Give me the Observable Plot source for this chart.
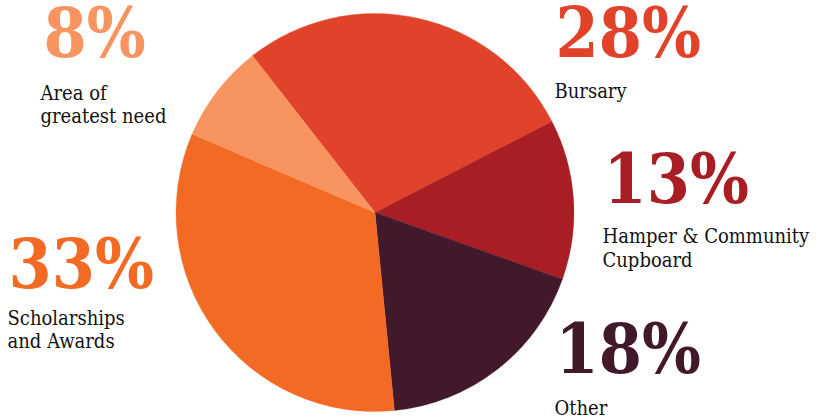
<!DOCTYPE html>
<html>
<head>
<meta charset="utf-8">
<script src="https://cdn.jsdelivr.net/npm/d3@7"></script>
<script src="https://cdn.jsdelivr.net/npm/@observablehq/plot@0.6"></script>
<style>
  html, body { margin: 0; padding: 0; background: #fff; }
  #chart svg { display: block; }
</style>
</head>
<body>
<div id="chart"></div>
<script>
// ---- data ----
const categories = ["Bursary", "Hamper & Community\nCupboard", "Other", "Scholarships\nand Awards", "Area of\ngreatest need"];
const values = [28, 13, 18, 33, 8];
const percentLabels = ["28%", "13%", "18%", "33%", "8%"];
const colors = ["#E04329", "#A81E24", "#41192B", "#F26A24", "#F7945F"];

// ---- layout (pixel space, via identity-like scales) ----
const W = 825, H = 418;
const pieCenter = [375, 212.5];
const pieRadius = 199;
const startDeg = -38;
const pctPos = [[555, 7], [603, 153], [555, 323], [8, 238], [43, 7]];
const catPos = [[554, 80.5], [602, 226], [554, 397.5], [7, 307.5], [40, 82.5]];

const arcs = d3.pie().sort(null)
  .startAngle(startDeg * Math.PI / 180)
  .endAngle(startDeg * Math.PI / 180 + 2 * Math.PI)(values);

const pctData = values.map((v, i) => ({text: percentLabels[i], x: pctPos[i][0], y: pctPos[i][1], color: colors[i]}));
const catData = categories.map((c, i) => ({text: c, x: catPos[i][0], y: catPos[i][1]}));

function pieMark(index, scales) {
  const cx = scales.x(pieCenter[0]);
  const cy = scales.y(pieCenter[1]);
  const r = scales.x(pieCenter[0] + pieRadius) - cx;
  const arc = d3.arc().innerRadius(0).outerRadius(r);
  const g = d3.create("svg:g").attr("transform", `translate(${cx},${cy})`);
  g.selectAll("path").data(arcs).join("path")
    .attr("d", arc)
    .attr("fill", (d, i) => colors[i])
    .attr("stroke", (d, i) => colors[i])
    .attr("stroke-width", 0.3);
  return g.node();
}

const chart = Plot.plot({
  width: W,
  height: H,
  margin: 0,
  x: {domain: [0, W], range: [0, W], axis: null},
  y: {domain: [0, H], range: [0, H], axis: null},
  color: {type: "identity"},
  marks: [
    pieMark,
    Plot.text(pctData, {
      x: "x", y: "y", text: "text", fill: "color",
      textAnchor: "start", lineAnchor: "top",
      fontSize: 69, fontWeight: "bold",
      fontFamily: "'DejaVu Serif Condensed', 'DejaVu Serif', serif",
      fontStretch: "condensed"
    }),
    Plot.text(catData, {
      x: "x", y: "y", text: "text", fill: "#111",
      textAnchor: "start", lineAnchor: "top",
      fontSize: 20, lineHeight: 1.18,
      fontFamily: "'DejaVu Serif', serif"
    })
  ]
});
chart.style.fontStretch = "condensed";
document.getElementById("chart").appendChild(chart);
</script>
</body>
</html>
